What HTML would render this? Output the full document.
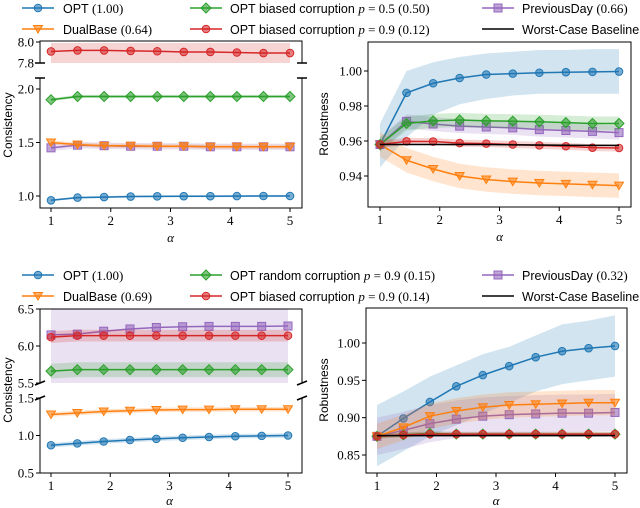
<!DOCTYPE html>
<html><head><meta charset="utf-8">
<style>
body{margin:0;background:#fff;}
svg{display:block;font-family:"Liberation Serif",serif;}
.lg{font-family:"Liberation Sans",sans-serif;font-size:12.5px;}
.mt{font-family:"Liberation Serif",serif;font-size:13px;}
.tk{font-size:13px;}
.yl{font-family:"Liberation Sans",sans-serif;font-size:12px;}
</style></head>
<body>
<svg id="fig" width="640" height="508" viewBox="0 0 640 508"></svg>
<script>
const alphas=[1,1.444,1.889,2.333,2.778,3.222,3.667,4.111,4.556,5];
// Top-left consistency
const tlOpt=[0.96,0.985,0.99,0.995,0.997,0.998,0.998,0.999,1.0,1.0];
const tlGreen=[1.90,1.93,1.93,1.93,1.93,1.93,1.93,1.93,1.93,1.93];
const tlOrange=[1.50,1.48,1.47,1.47,1.465,1.465,1.46,1.46,1.46,1.46];
const tlPurple=[1.45,1.475,1.47,1.465,1.465,1.465,1.46,1.46,1.46,1.46];
const tlRed=[7.91,7.92,7.92,7.915,7.912,7.905,7.905,7.9,7.895,7.895];
// Top-right robustness
const trOpt=[0.958,0.9875,0.993,0.996,0.998,0.9985,0.999,0.9993,0.9995,0.9997];
const trOptLo=[0.945,0.962,0.975,0.981,0.984,0.986,0.987,0.987,0.987,0.987];
const trOptHi=[0.970,1.0,1.005,1.008,1.010,1.011,1.012,1.012,1.0125,1.0125];
const trGreen=[0.958,0.970,0.9715,0.972,0.9715,0.9713,0.971,0.9705,0.970,0.970];
const trPurple=[0.958,0.9712,0.9697,0.9685,0.968,0.9675,0.9665,0.966,0.9655,0.9648];
const trRed=[0.958,0.9598,0.9597,0.9588,0.9585,0.958,0.9575,0.957,0.9562,0.956];
const trOrange=[0.958,0.949,0.944,0.940,0.938,0.9368,0.936,0.9355,0.935,0.9345];
const trBase=[0.958,0.958,0.958,0.958,0.958,0.9578,0.9577,0.9576,0.9575,0.9575];
// Bottom-left consistency
const blPurple=[6.15,6.16,6.2,6.23,6.25,6.26,6.265,6.265,6.265,6.27];
const blRed=[6.12,6.14,6.14,6.14,6.14,6.14,6.14,6.14,6.14,6.14];
const blGreen=[5.66,5.68,5.68,5.68,5.68,5.68,5.68,5.68,5.68,5.68];
const blOrange=[1.28,1.30,1.32,1.33,1.34,1.345,1.345,1.35,1.35,1.35];
const blOpt=[0.87,0.895,0.92,0.94,0.955,0.97,0.98,0.99,0.995,1.0];
// Bottom-right robustness
const brOpt=[0.875,0.899,0.921,0.942,0.957,0.969,0.981,0.989,0.993,0.996];
const brOptLo=[0.835,0.855,0.875,0.89,0.905,0.92,0.935,0.945,0.95,0.955];
const brOptHi=[0.917,0.935,0.955,0.97,0.985,0.995,1.01,1.025,1.03,1.037];
const brOrange=[0.875,0.887,0.902,0.909,0.914,0.917,0.918,0.919,0.92,0.92];
const brPurple=[0.875,0.883,0.892,0.898,0.902,0.904,0.905,0.906,0.906,0.907];
const brRed=[0.875,0.877,0.878,0.878,0.878,0.878,0.878,0.878,0.878,0.878];
const brGreen=[0.875,0.877,0.879,0.878,0.878,0.878,0.878,0.878,0.878,0.878];
const brBase=[0.876,0.876,0.876,0.876,0.876,0.876,0.876,0.876,0.876,0.876];
const xTicks=[1,2,3,4,5];

const C={blue:'#1f77b4',orange:'#ff7f0e',green:'#2ca02c',red:'#d62728',purple:'#9467bd'};
const svg=document.getElementById('fig');
const NS='http://www.w3.org/2000/svg';
function mk(tag,at,parent){const e=document.createElementNS(NS,tag);for(const k in at)e.setAttribute(k,at[k]);(parent||svg).appendChild(e);return e;}
function lin(d0,d1,r0,r1){return v=>r0+(v-d0)/(d1-d0)*(r1-r0);}

function marker(g,shape,x,y,col){
  const at={fill:col,'fill-opacity':0.6,stroke:col,'stroke-width':1};
  if(shape==='o'){mk('circle',Object.assign({cx:x,cy:y,r:3.8},at),g);}
  else if(shape==='v'){mk('polygon',Object.assign({points:`${x-4.5},${y-3.5} ${x+4.5},${y-3.5} ${x},${y+4}`},at),g);}
  else if(shape==='D'){mk('polygon',Object.assign({points:`${x},${y-5} ${x+5},${y} ${x},${y+5} ${x-5},${y}`},at),g);}
  else if(shape==='s'){mk('rect',Object.assign({x:x-4,y:y-4,width:8,height:8},at),g);}
}
function series(name,xs,ys,xf,yf,col,shape,lo,hi){
  const g=mk('g',{});
  
  
  if(lo&&hi){
    let p=xs.map((a,i)=>`${xf(a)},${yf(hi[i])}`).concat(xs.map((a,i)=>`${xf(xs[xs.length-1-i])},${yf(lo[xs.length-1-i])}`));
    const b=mk('polygon',{points:p.join(' '),fill:col,'fill-opacity':0.2,stroke:'none'},g);
    
    
  }
  mk('polyline',{points:xs.map((a,i)=>`${xf(a)},${yf(ys[i])}`).join(' '),fill:'none',stroke:col,'stroke-width':1.5},g);
  if(shape) xs.forEach((a,i)=>marker(g,shape,xf(a),yf(ys[i]),col));
  return g;
}
function band(ys,d){return [ys.map(v=>v-d),ys.map(v=>v+d)];}
function text(s,x,y,cls,anchor,extra){const t=mk('text',Object.assign({x:x,y:y,class:cls,'text-anchor':anchor||'middle'},extra||{}));t.textContent=s;return t;}
function xAxis(xf,y0,alY){
  xTicks.forEach(v=>{mk('line',{x1:xf(v),x2:xf(v),y1:y0,y2:y0+4,stroke:'#000'});const t=text(String(v),xf(v),y0+17,'tk');});
  const a=text('α',(xf(1)+xf(5))/2,alY,'tk','middle',{'font-style':'italic'});
}
function yTicks(vals,labels,yf,x0){
  vals.forEach((v,i)=>{mk('line',{x1:x0-4,x2:x0,y1:yf(v),y2:yf(v),stroke:'#000'});const t=text(labels[i],x0-6,yf(v)+4.5,'tk','end');});
}
function ylabel(s,x,y){const t=text(s,x,y,'yl','middle',{transform:`rotate(-90 ${x} ${y})`});}
function legend(entries,y0){
  const cols=[[22,63],[190,230],[482,522]];
  entries.forEach((e,i)=>{
    const c=cols[Math.floor(i/2)],y=y0+(i%2)*21;
    const g=mk('g',{});
    
    
    mk('line',{x1:c[0],x2:c[0]+32,y1:y,y2:y,stroke:e.col,'stroke-width':1.5},g);
    if(e.shape) marker(g,e.shape,c[0]+16,y,e.col);
    const t=mk('text',{x:c[1],y:y+5,class:'lg'},g);
    t.appendChild(document.createTextNode(e.label+' '));
    if(e.p){const p=mk('tspan',{class:'mt','font-style':'italic'},t);p.textContent='p';const q=mk('tspan',{class:'mt'},t);q.textContent=' = '+e.p+' ';}
    if(e.v){const v=mk('tspan',{class:'mt'},t);v.textContent='('+e.v+')';}
  });
}

// ---------- Top-left ----------
{
const xf=lin(1,5,51,290);
const yU=lin(7.8,8.0,63,42);
const yL=lin(1.0,2.0,196,89);
const L=40,R=302;
series('red-upper-consistency',alphas,tlRed,xf,yU,C.red,'o',tlRed.map(v=>7.8),tlRed.map(v=>7.99));
mk('path',{d:`M${L},63 L${L},41 L${R},41 L${R},63`,fill:'none',stroke:'#000','stroke-width':1});
mk('line',{x1:L-5,x2:L+5,y1:63,y2:63,stroke:'#000','stroke-width':1.5});
mk('line',{x1:R-5,x2:R+5,y1:63,y2:63,stroke:'#000','stroke-width':1.5});
yTicks([7.8,8.0],['7.8','8.0'],yU,L);
series('purple-consistency',alphas,tlPurple,xf,yL,C.purple,'s',...band(tlPurple,0.03));
series('orange-consistency',alphas,tlOrange,xf,yL,C.orange,'v',...band(tlOrange,0.02));
series('green-consistency',alphas,tlGreen,xf,yL,C.green,'D',...band(tlGreen,0.015));
series('opt-consistency',alphas,tlOpt,xf,yL,C.blue,'o',...band(tlOpt,0.01));
mk('path',{d:`M${L},78 L${L},208 L${R},208 L${R},78`,fill:'none',stroke:'#000','stroke-width':1});
mk('line',{x1:L-5,x2:L+5,y1:78,y2:78,stroke:'#000','stroke-width':1.5});
mk('line',{x1:R-5,x2:R+5,y1:78,y2:78,stroke:'#000','stroke-width':1.5});
yTicks([1.0,1.5,2.0],['1.0','1.5','2.0'],yL,L);
xAxis(xf,208,242);
ylabel('Consistency',12,125);
}
// ---------- Top-right ----------
{
const xf=lin(1,5,380,619);
const yf=lin(0.94,1.0,176,71);
series('opt-robustness',alphas,trOpt,xf,yf,C.blue,'o',trOptLo,trOptHi);
series('orange-robustness',alphas,trOrange,xf,yf,C.orange,'v',...band(trOrange,0.007));
series('purple-robustness',alphas,trPurple,xf,yf,C.purple,'s',...band(trPurple,0.004));
series('green-robustness',alphas,trGreen,xf,yf,C.green,'D',...band(trGreen,0.004));
series('red-robustness',alphas,trRed,xf,yf,C.red,'o',...band(trRed,0.002));
series('worst-case-baseline',alphas,trBase,xf,yf,'#000',null);
mk('rect',{x:368,y:42,width:263,height:165,fill:'none',stroke:'#000','stroke-width':1});
yTicks([0.94,0.96,0.98,1.0],['0.94','0.96','0.98','1.00'],yf,368);
xAxis(xf,207,241);
ylabel('Robustness',328,124);
}
legend([
 {label:'OPT',v:'1.00',col:C.blue,shape:'o'},
 {label:'DualBase',v:'0.64',col:C.orange,shape:'v'},
 {label:'OPT biased corruption',p:'0.5',v:'0.50',col:C.green,shape:'D'},
 {label:'OPT biased corruption',p:'0.9',v:'0.12',col:C.red,shape:'o'},
 {label:'PreviousDay',v:'0.66',col:C.purple,shape:'s'},
 {label:'Worst-Case Baseline',col:'#000',shape:null}
],8);
// ---------- Bottom-left ----------
{
const xf=lin(1,5,51,288);
const yU=lin(5.5,6.5,383,309);
const yL=lin(0.5,1.5,473,398);
const L=40,R=302;
series('purple-consistency-b',alphas,blPurple,xf,yU,C.purple,'s',blPurple.map(v=>5.5),blPurple.map(v=>6.5));
series('red-consistency-b',alphas,blRed,xf,yU,C.red,'o',...band(blRed,0.08));
series('green-consistency-b',alphas,blGreen,xf,yU,C.green,'D',...band(blGreen,0.1));
mk('path',{d:`M${L},383 L${L},309 L${R},309 L${R},383`,fill:'none',stroke:'#000','stroke-width':1});
yTicks([5.5,6.0,6.5],['5.5','6.0','6.5'],yU,L);
series('orange-consistency-b',alphas,blOrange,xf,yL,C.orange,'v',...band(blOrange,0.03));
series('opt-consistency-b',alphas,blOpt,xf,yL,C.blue,'o',...band(blOpt,0.03));
mk('path',{d:`M${L},398 L${L},473 L${R},473 L${R},398`,fill:'none',stroke:'#000','stroke-width':1});
yTicks([0.5,1.0,1.5],['0.5','1.0','1.5'],yL,L);
[[L,383],[R,383],[L,398],[R,398]].forEach(p=>mk('line',{x1:p[0]-5,x2:p[0]+5,y1:p[1]+2,y2:p[1]-2,stroke:'#000','stroke-width':1.5}));
xAxis(xf,473,505);
ylabel('Consistency',12,390);
}
// ---------- Bottom-right ----------
{
const xf=lin(1,5,377,615);
const yf=lin(0.85,1.0,455,343);
series('opt-robustness-b',alphas,brOpt,xf,yf,C.blue,'o',brOptLo,brOptHi);
series('purple-robustness-b',alphas,brPurple,xf,yf,C.purple,'s',...band(brPurple,0.025));
series('orange-robustness-b',alphas,brOrange,xf,yf,C.orange,'v',...band(brOrange,0.017));
series('green-robustness-b',alphas,brGreen,xf,yf,C.green,'D',...band(brGreen,0.003));
series('red-robustness-b',alphas,brRed,xf,yf,C.red,'o',...band(brRed,0.003));
series('worst-case-baseline-b',alphas,brBase,xf,yf,'#000',null);
mk('rect',{x:366,y:308,width:261,height:165,fill:'none',stroke:'#000','stroke-width':1});
yTicks([0.85,0.9,0.95,1.0],['0.85','0.90','0.95','1.00'],yf,366);
xAxis(xf,473,505);
ylabel('Robustness',328,390);
}
legend([
 {label:'OPT',v:'1.00',col:C.blue,shape:'o'},
 {label:'DualBase',v:'0.69',col:C.orange,shape:'v'},
 {label:'OPT random corruption',p:'0.9',v:'0.15',col:C.green,shape:'D'},
 {label:'OPT biased corruption',p:'0.9',v:'0.14',col:C.red,shape:'o'},
 {label:'PreviousDay',v:'0.32',col:C.purple,shape:'s'},
 {label:'Worst-Case Baseline',col:'#000',shape:null}
],275);
</script>
</body></html>
